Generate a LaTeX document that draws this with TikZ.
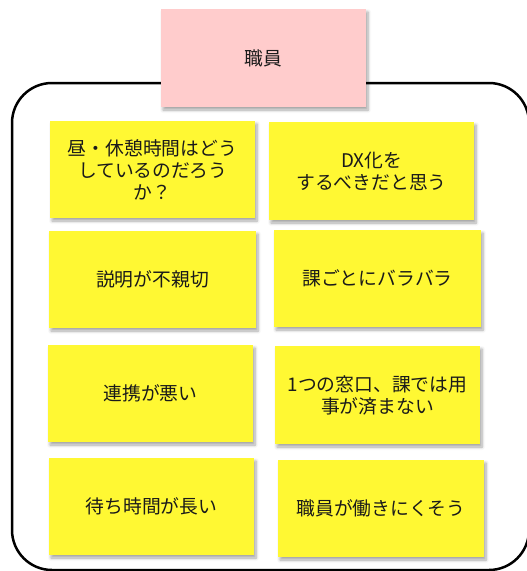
\documentclass[tikz,border=0pt]{standalone}
\usepackage{fontspec}
\setmainfont{Noto Sans CJK JP}
\usetikzlibrary{shadows.blur}
\definecolor{notey}{HTML}{FFF833}
\definecolor{pinkbox}{HTML}{FFCCCC}
\definecolor{txt}{HTML}{1A1A1A}
\tikzset{
  card/.style={minimum width=205pt, minimum height=97pt, inner sep=0pt, align=center,
    text=txt, font=\fontsize{18.8}{22}\selectfont,
    blur shadow={shadow xshift=2pt, shadow yshift=-3pt, shadow blur steps=6, shadow blur radius=3pt, shadow opacity=35}},
  note/.style={card, fill=notey},
  title/.style={card, fill=pinkbox, minimum height=98pt},
  frame/.style={draw=black, line width=2.5pt, rounded corners=40pt}
}
\begin{document}
\begin{tikzpicture}[x=1pt, y=-1pt]
\useasboundingbox (0,0) rectangle (527,571);
\clip (0,0) rectangle (527,571);
\draw[frame] (12,83) rectangle (529,570);
\node[title] (staff) at (263.5,58) {職員};
\node[note] (n1) at (152.5,169.5) {昼・休憩時間はどう\\しているのだろう\\か？};
\node[note, minimum height=98pt] (n2) at (371.5,171) {DX化を\\するべきだと思う};
\node[note, minimum width=207pt] (n3) at (152.5,279.5) {説明が不親切};
\node[note, minimum width=207pt] (n4) at (377.5,278.5) {課ごとにバラバラ};
\node[note] (n5) at (150.5,393.5) {連携が悪い};
\node[note, minimum height=98pt] (n6) at (377.5,395) {1つの窓口、課では用\\事が済まない};
\node[note] (n7) at (151.5,506.5) {待ち時間が長い};
\node[note, minimum width=206pt] (n8) at (381,508.5) {職員が働きにくそう};
\end{tikzpicture}
\end{document}
